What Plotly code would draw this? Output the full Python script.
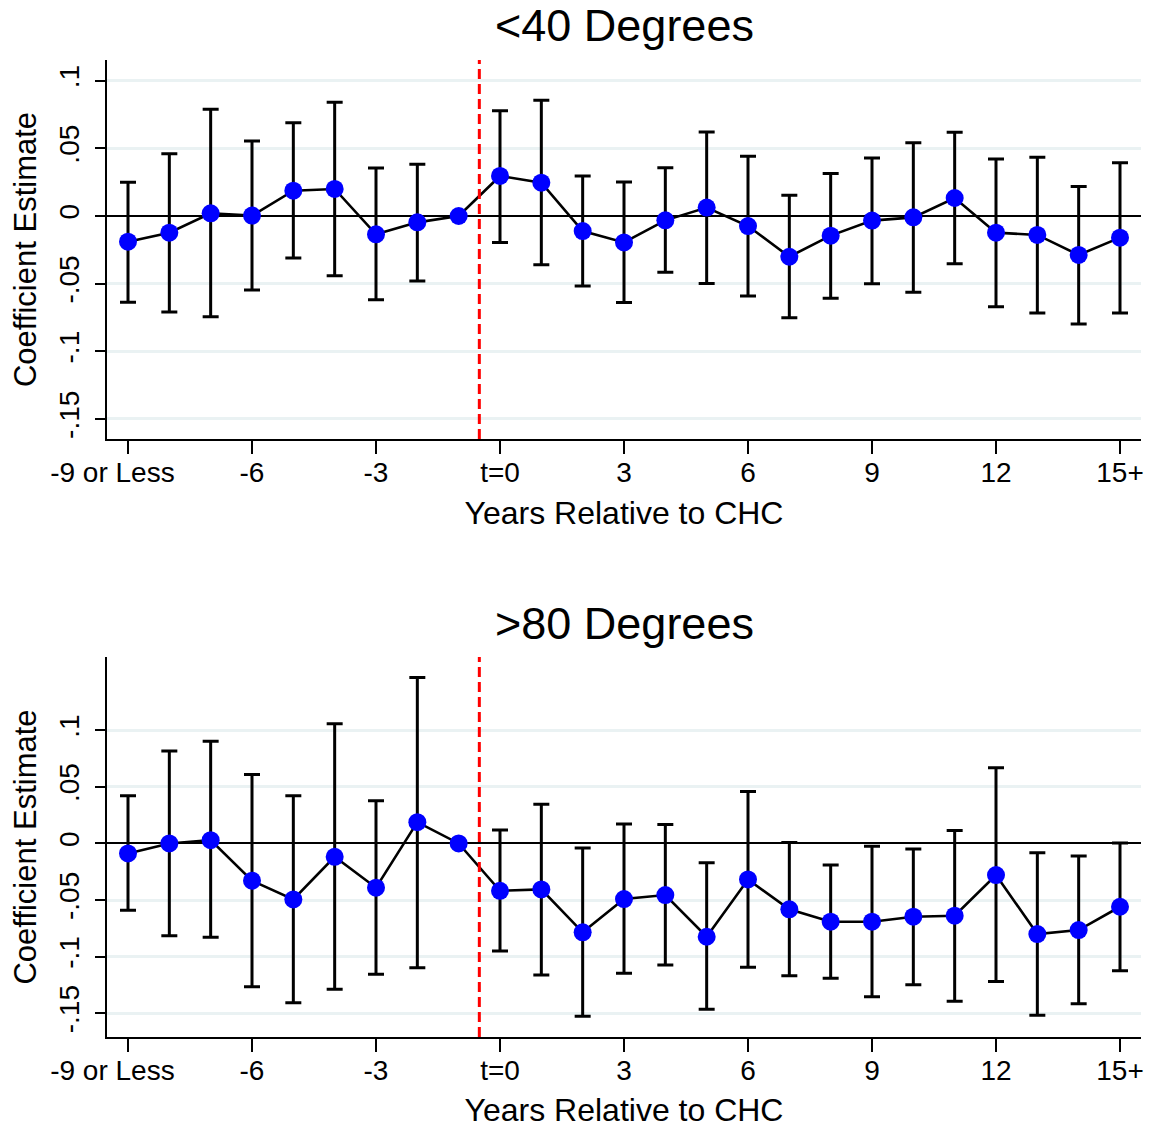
import plotly.graph_objects as go
from plotly.subplots import make_subplots

# ---- data ----
years = list(range(-9, 16))
tick_vals_x = [-9, -6, -3, 0, 3, 6, 9, 12, 15]
tick_text_x = ["-9 or Less", "-6", "-3", "t=0", "3", "6", "9", "12", "15+"]
tick_vals_y = [-0.15, -0.1, -0.05, 0, 0.05, 0.1]
tick_text_y = ["-.15", "-.1", "-.05", "0", ".05", ".1"]

# <40 Degrees
cold_est = [-0.0190, -0.0123, 0.0020, 0.0003, 0.0187, 0.0200, -0.0135, -0.0047, 0.0,
            0.0296, 0.0246, -0.0111, -0.0195, -0.0032, 0.0062, -0.0074, -0.0301,
            -0.0145, -0.0034, -0.0010, 0.0133, -0.0123, -0.0140, -0.0288, -0.0160]
cold_hi = [0.0249, 0.0461, 0.0789, 0.0554, 0.0690, 0.0840, 0.0355, 0.0382, None,
           0.0778, 0.0855, 0.0296, 0.0251, 0.0357, 0.0621, 0.0441, 0.0153,
           0.0315, 0.0429, 0.0542, 0.0619, 0.0421, 0.0434, 0.0219, 0.0394]
cold_lo = [-0.0638, -0.0710, -0.0744, -0.0547, -0.0310, -0.0441, -0.0618, -0.0480, None,
           -0.0195, -0.0360, -0.0517, -0.0640, -0.0416, -0.0498, -0.0591, -0.0751,
           -0.0608, -0.0500, -0.0564, -0.0352, -0.0670, -0.0717, -0.0798, -0.0717]

# >80 Degrees
hot_est = [-0.0088, 0.0000, 0.0029, -0.0329, -0.0494, -0.0118, -0.0391, 0.0188, 0.0,
           -0.0418, -0.0406, -0.0785, -0.0491, -0.0456, -0.0824, -0.0318, -0.0582,
           -0.0691, -0.0691, -0.0647, -0.0638, -0.0279, -0.0800, -0.0765, -0.0559]
hot_hi = [0.0421, 0.0815, 0.0903, 0.0609, 0.0421, 0.1056, 0.0376, 0.1465, None,
          0.0118, 0.0347, -0.0041, 0.0171, 0.0168, -0.0171, 0.0459, 0.0009,
          -0.0191, -0.0024, -0.0050, 0.0115, 0.0668, -0.0082, -0.0112, 0.0003]
hot_lo = [-0.0591, -0.0815, -0.0829, -0.1265, -0.1406, -0.1288, -0.1156, -0.1097, None,
          -0.0950, -0.1162, -0.1526, -0.1147, -0.1074, -0.1465, -0.1094, -0.1168,
          -0.1191, -0.1353, -0.1247, -0.1394, -0.1218, -0.1518, -0.1415, -0.1124]

panels = [
    ("<40 Degrees", cold_est, cold_hi, cold_lo, [-0.1648, 0.1153]),
    (">80 Degrees", hot_est, hot_hi, hot_lo, [-0.1709, 0.1646]),
]

# page has an 8px body margin: the figure starts at (8, 8) in the window
OFF = 8
W, H = 1153 - OFF, 1128 - OFF
FONT = "Liberation Sans, Arial, sans-serif"


def px_x(p):
    return (p - OFF) / W


def px_y(p):
    return 1 - (p - OFF) / H


# first label sits left of its tick in the reference: pad it on the right
shown_tick_text_x = [tick_text_x[0] + "\u00a0" * 4] + tick_text_x[1:]

fig = make_subplots(rows=2, cols=1)

x_dom = [px_x(107), px_x(1141)]
y_doms = [[px_y(439), px_y(60)], [px_y(1037), px_y(657)]]
title_y = [px_y(26), px_y(623)]

for i, (name, est, hi, lo, yr) in enumerate(panels):
    row = i + 1
    ex, ey, eplus, eminus = [], [], [], []
    for x, e, h, l in zip(years, est, hi, lo):
        if h is None:
            continue
        ex.append(x)
        ey.append(e)
        eplus.append(h - e)
        eminus.append(e - l)
    fig.add_trace(go.Scatter(
        x=ex, y=ey, mode="markers",
        marker=dict(size=1, opacity=0),
        error_y=dict(type="data", symmetric=False, array=eplus, arrayminus=eminus,
                     color="black", thickness=3, width=8),
        showlegend=False, hoverinfo="skip"), row=row, col=1)
    fig.add_trace(go.Scatter(
        x=years, y=est, mode="lines+markers",
        line=dict(color="black", width=2.6),
        marker=dict(color="#0000ff", size=18),
        showlegend=False), row=row, col=1)

    xa = "xaxis" if i == 0 else "xaxis2"
    ya = "yaxis" if i == 0 else "yaxis2"
    fig.layout[xa].update(
        domain=x_dom, range=[-9.508, 15.508], automargin=False,
        tickmode="array", tickvals=tick_vals_x, ticktext=shown_tick_text_x,
        ticks="outside", ticklen=13, tickwidth=2, tickcolor="black",
        ticklabelstandoff=-6,
        showline=True, linecolor="black", linewidth=2, mirror=False,
        showgrid=False, zeroline=False,
        tickfont=dict(family=FONT, size=28, color="black"),
        title=dict(text="Years Relative to CHC",
                   font=dict(family=FONT, size=32, color="black"), standoff=15),
    )
    fig.layout[ya].update(
        domain=y_doms[i], range=yr, automargin=False,
        tickmode="array", tickvals=tick_vals_y, ticktext=tick_text_y,
        tickangle=-90, ticklabelstandoff=5,
        ticks="outside", ticklen=10, tickwidth=2, tickcolor="black",
        showline=True, linecolor="black", linewidth=2, mirror=False,
        showgrid=True, gridcolor="#eaf2f3", gridwidth=2.5,
        zeroline=True, zerolinecolor="black", zerolinewidth=2,
        tickfont=dict(family=FONT, size=28, color="black"),
        title=dict(text="Coefficient Estimate",
                   font=dict(family=FONT, size=31, color="black"), standoff=12),
    )
    xref = "x" if i == 0 else "x2"
    yref = "y domain" if i == 0 else "y2 domain"
    fig.add_shape(type="line", xref=xref, yref=yref, x0=-0.5, x1=-0.5, y0=0, y1=1,
                  line=dict(color="#ff0000", width=3, dash="10px,5px"))
    fig.add_annotation(text=name, xref="paper", yref="paper",
                       x=(x_dom[0] + x_dom[1]) / 2, y=title_y[i],
                       xanchor="center", yanchor="middle", showarrow=False,
                       font=dict(family=FONT, size=45, color="black"))

fig.update_layout(
    width=W, height=H,
    margin=dict(l=0, r=0, t=0, b=0),
    paper_bgcolor="white", plot_bgcolor="white",
    font=dict(family=FONT, color="black"),
)

fig.write_html("out.html")
